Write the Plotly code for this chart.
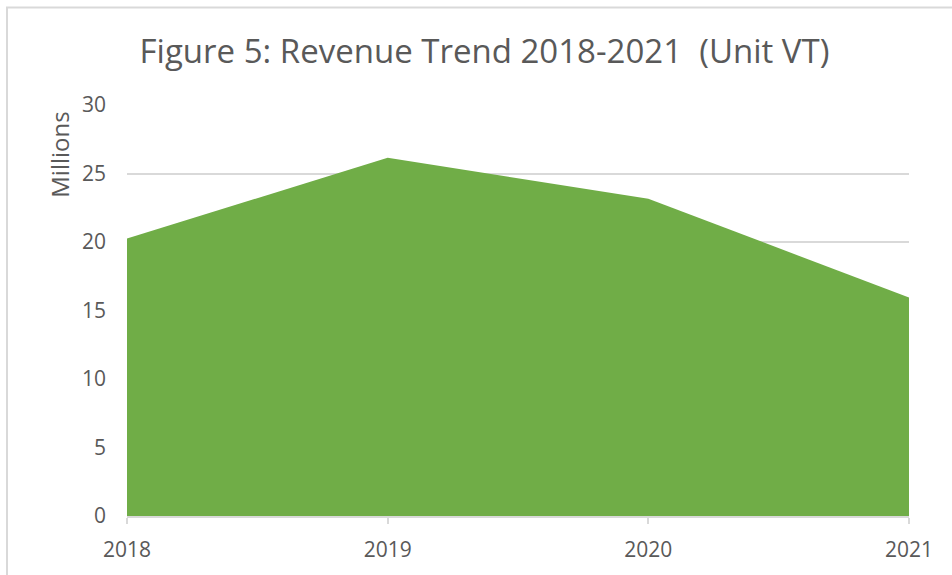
import plotly.graph_objects as go

years = ["2018", "2019", "2020", "2021"]
revenue_millions = [20.25, 26.15, 23.15, 15.95]
y_ticks = [0, 5, 10, 15, 20, 25, 30]

W, H = 952, 575
L, R, T, B = 127, 43, 105, 57
pw, ph = W - L - R, H - T - B

fig = go.Figure()
fig.add_trace(go.Scatter(
    x=years, y=revenue_millions, mode="lines", fill="tozeroy",
    line=dict(color="#70AD47", width=0), fillcolor="#70AD47",
    hoverinfo="x+y", showlegend=False,
))

font = "Open Sans, sans-serif"
gray = "#595959"

fig.update_layout(
    width=W, height=H,
    margin=dict(l=L, r=R, t=T, b=B),
    paper_bgcolor="white", plot_bgcolor="white",
    title=dict(text="Figure 5: Revenue Trend 2018-2021 \u00a0(Unit VT)",
               x=484.5 / W, xanchor="center", xref="container",
               y=1 - 51 / H, yanchor="middle", yref="container",
               font=dict(family=font, size=33, color=gray)),
    xaxis=dict(type="category", range=[0, 3], showgrid=False,
               showline=True, linecolor="#D9D9D9", linewidth=2,
               ticks="outside", ticklen=6, tickcolor="#D9D9D9", tickwidth=2,
               ticklabelstandoff=8,
               tickfont=dict(family=font, size=21, color=gray),
               zeroline=False, fixedrange=True),
    yaxis=dict(range=[0, 30], tickvals=y_ticks,
               showgrid=True, gridcolor="#D9D9D9", gridwidth=2,
               showline=False, zeroline=False, ticks="",
               ticklabelstandoff=20,
               tickfont=dict(family=font, size=21, color=gray),
               fixedrange=True),
    annotations=[dict(text="Millions", textangle=-90, showarrow=False,
                      xref="paper", yref="paper",
                      x=(60 - L) / pw, y=(H - B - 155) / ph,
                      xanchor="center", yanchor="middle",
                      font=dict(family=font, size=24, color=gray))],
    shapes=[dict(type="rect", xref="paper", yref="paper",
                 x0=(7 - L) / pw, x1=(W + 20 - L) / pw,
                 y0=(H - B - (H + 20)) / ph, y1=(H - B - 7) / ph,
                 line=dict(color="#D9D9D9", width=2), fillcolor="rgba(0,0,0,0)",
                 layer="below")],
)

fig.write_html("out.html", config={"displayModeBar": False},
               post_script="document.body.style.margin='0';document.body.style.overflow='hidden';")
